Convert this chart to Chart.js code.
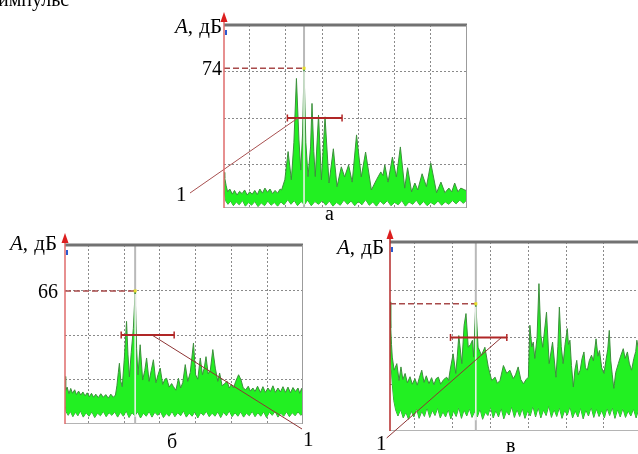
<!DOCTYPE html>
<html>
<head>
<meta charset="utf-8">
<script src="https://cdn.jsdelivr.net/npm/chart.js@4.4.1/dist/chart.umd.min.js"></script>
<style>
  html, body { margin: 0; padding: 0; background: #fff; }
  #wrap { position: relative; width: 638px; height: 454px; overflow: hidden; }
  canvas { position: absolute; left: 0; top: 0; }
  .t { position: absolute; font-family: "Liberation Serif", "Times New Roman", serif; font-size: 20px; line-height: 20px; color: #000; white-space: nowrap; }
  .n { font-size: 21px; line-height: 21px; }
  .u { font-size: 21px; line-height: 21px; word-spacing: 1px; }
</style>
</head>
<body>
<div id="wrap">
  <canvas id="chartA" width="638" height="454"></canvas>
  <canvas id="chartB" width="638" height="454"></canvas>
  <canvas id="chartC" width="638" height="454"></canvas>

  <div class="t" style="left:-2px;top:-11px">импульс</div>

  <div class="t u" style="right:416px;top:16px"><i>A</i>, дБ</div>
  <div class="t" style="right:416px;top:58px">74</div>
  <div class="t n" style="left:176px;top:184px">1</div>
  <div class="t" style="left:325px;top:203px">а</div>

  <div class="t u" style="right:581px;top:233px"><i>A</i>, дБ</div>
  <div class="t" style="right:580px;top:281px">66</div>
  <div class="t" style="left:167px;top:431px">б</div>
  <div class="t n" style="left:303px;top:429px">1</div>

  <div class="t u" style="right:254px;top:237px"><i>A</i>, дБ</div>
  <div class="t n" style="left:376px;top:433px">1</div>
  <div class="t" style="left:506px;top:435px">в</div>
</div>

<script>
// spectrum a: [frequency (grid divisions), amplitude dB]
const aTop = [
  [0.29,51.5],[0.31,50.3],[0.35,48.6],[0.39,47.3],[0.45,47.9],[0.52,46.8],[0.58,47.6],[0.65,46.6],
  [0.72,47.4],[0.79,46.9],[0.86,47.7],[0.93,46.6],[1.00,47.3],[1.07,46.8],[1.14,47.6],[1.21,46.7],
  [1.28,47.9],[1.35,47.0],[1.42,48.1],[1.49,47.2],[1.56,47.9],[1.63,46.9],[1.70,47.6],[1.77,47.0],
  [1.84,47.9],[1.88,47.7],[1.97,49.9],[2.06,56.0],[2.15,49.9],[2.22,58.0],[2.29,71.8],[2.36,58.5],
  [2.41,52.0],[2.46,60.0],[2.50,74.0],[2.55,58.0],[2.61,50.6],[2.68,57.0],[2.72,66.4],[2.77,56.0],
  [2.81,50.6],[2.90,63.9],[2.98,49.9],[3.08,63.5],[3.19,49.2],[3.31,56.6],[3.41,48.4],[3.53,52.7],
  [3.62,50.5],[3.73,53.1],[3.83,49.4],[3.95,59.6],[4.08,50.5],[4.20,55.9],[4.36,47.7],[4.50,49.9],
  [4.62,51.6],[4.68,50.8],[4.73,53.1],[4.82,49.4],[4.94,54.8],[5.05,50.5],[5.16,57.0],[5.28,48.1],
  [5.36,52.5],[5.47,47.3],[5.56,49.2],[5.64,47.7],[5.76,51.2],[5.88,48.4],[6.00,53.5],[6.16,47.1],
  [6.28,49.4],[6.39,47.1],[6.50,48.1],[6.58,47.3],[6.66,49.2],[6.75,47.3],[6.83,48.1],[6.94,47.7],
  [7.00,47.5]
];
const aBot = [
  [0.29,48.0],[0.33,45.4],[0.40,44.6],[0.47,45.3],[0.55,44.3],[0.63,45.1],[0.71,44.5],[0.80,45.4],
  [0.88,44.2],[0.97,45.0],[1.05,44.4],[1.14,45.2],[1.23,44.1],[1.32,44.9],[1.41,44.3],[1.50,45.3],
  [1.59,44.4],[1.68,45.0],[1.77,44.2],[1.86,45.1],[1.95,44.5],[2.05,45.6],[2.14,44.6],[2.23,45.4],
  [2.32,44.3],[2.42,45.2],[2.51,44.5],[2.60,45.5],[2.70,44.3],[2.80,45.2],[2.90,44.6],[3.00,45.4],
  [3.10,44.4],[3.20,45.3],[3.30,44.2],[3.40,45.0],[3.50,44.4],[3.60,45.5],[3.70,44.6],[3.80,45.3],
  [3.90,44.3],[4.00,45.2],[4.10,44.5],[4.20,45.6],[4.30,44.4],[4.40,45.1],[4.50,44.2],[4.60,45.3],
  [4.70,44.6],[4.80,45.4],[4.90,44.3],[5.00,45.0],[5.10,44.5],[5.20,45.4],[5.30,44.2],[5.40,45.1],
  [5.50,44.6],[5.60,45.5],[5.70,44.4],[5.80,45.2],[5.90,44.3],[6.00,45.0],[6.10,44.5],[6.20,45.3],
  [6.30,44.4],[6.40,45.1],[6.50,44.6],[6.60,45.4],[6.70,44.7],[6.80,45.5],[6.90,44.8],[7.00,45.6]
];

// spectrum б
const bTop = [
  [0.35,46.6],[0.37,43.5],[0.41,44.2],[0.46,42.7],[0.51,43.9],[0.56,42.8],[0.62,43.6],[0.67,42.5],
  [0.73,43.3],[0.79,42.4],[0.85,43.1],[0.91,42.2],[0.97,42.9],[1.03,42.0],[1.09,42.8],[1.15,41.9],
  [1.21,42.6],[1.28,41.8],[1.35,42.7],[1.42,41.9],[1.49,42.5],[1.56,41.7],[1.63,42.6],[1.70,41.9],
  [1.76,42.4],[1.80,44.5],[1.84,47.5],[1.87,49.6],[1.91,45.5],[1.95,44.3],[2.01,51.0],[2.07,59.1],
  [2.11,51.5],[2.15,46.5],[2.20,52.0],[2.26,57.5],[2.31,66.0],[2.35,53.0],[2.39,47.0],[2.45,53.8],
  [2.52,45.8],[2.58,48.0],[2.63,50.8],[2.70,45.5],[2.76,48.0],[2.82,50.4],[2.89,45.2],[2.95,47.0],
  [3.01,48.5],[3.08,44.8],[3.14,46.0],[3.19,46.2],[3.26,44.2],[3.33,45.0],[3.38,44.3],[3.45,43.5],
  [3.52,46.2],[3.58,44.0],[3.64,45.2],[3.71,49.3],[3.78,45.5],[3.85,47.5],[3.94,54.2],[4.00,47.0],
  [4.06,46.0],[4.13,50.8],[4.19,47.0],[4.24,48.5],[4.29,51.1],[4.35,47.2],[4.41,48.0],[4.48,52.7],
  [4.55,48.5],[4.62,45.5],[4.67,47.4],[4.74,44.5],[4.81,45.0],[4.88,45.5],[4.94,44.0],[5.00,44.8],
  [5.06,44.0],[5.12,45.5],[5.20,47.0],[5.27,45.8],[5.33,44.0],[5.40,43.6],[5.47,44.4],[5.53,43.3],
  [5.60,44.0],[5.66,43.2],[5.73,44.4],[5.81,43.0],[5.88,44.3],[5.95,43.0],[6.02,44.0],[6.09,43.2],
  [6.16,44.5],[6.23,43.0],[6.30,44.0],[6.37,43.1],[6.44,44.3],[6.51,43.0],[6.58,44.2],[6.65,42.9],
  [6.72,44.1],[6.79,43.2],[6.86,44.0],[6.91,42.8],[6.96,43.9],[7.00,42.7]
];
const bBot = [
  [0.35,40.5],[0.38,38.6],[0.44,37.8],[0.50,38.7],[0.57,37.5],[0.64,38.5],[0.71,37.7],[0.78,38.8],
  [0.86,37.4],[0.94,38.4],[1.02,37.6],[1.10,38.6],[1.18,37.3],[1.26,38.3],[1.34,37.7],[1.42,38.7],
  [1.50,37.5],[1.58,38.4],[1.66,37.8],[1.74,38.6],[1.82,37.4],[1.90,38.5],[1.98,37.6],[2.06,38.8],
  [2.14,37.3],[2.22,38.4],[2.30,37.7],[2.38,38.6],[2.46,37.2],[2.54,38.3],[2.62,37.6],[2.70,38.7],
  [2.78,37.4],[2.86,38.5],[2.94,37.8],[3.02,38.6],[3.10,37.3],[3.18,38.2],[3.26,37.6],[3.34,38.7],
  [3.42,37.5],[3.50,38.4],[3.58,37.7],[3.66,38.8],[3.74,37.4],[3.82,38.3],[3.90,37.6],[3.98,38.6],
  [4.06,37.2],[4.14,38.4],[4.22,37.8],[4.30,38.7],[4.38,37.5],[4.46,38.3],[4.54,37.6],[4.62,38.6],
  [4.70,37.3],[4.78,38.5],[4.86,37.7],[4.94,38.8],[5.02,37.5],[5.10,38.4],[5.18,37.6],[5.26,38.6],
  [5.34,37.4],[5.42,38.3],[5.50,37.7],[5.58,38.7],[5.66,37.5],[5.74,38.4],[5.82,37.6],[5.90,38.6],
  [5.98,37.3],[6.06,38.5],[6.14,37.8],[6.22,38.7],[6.30,37.4],[6.38,38.3],[6.46,37.6],[6.54,38.6],
  [6.62,37.5],[6.70,38.4],[6.78,37.7],[6.86,38.6],[6.94,37.8],[7.00,38.5]
];

// spectrum в
const cTop = [
  [0.34,67.6],[0.36,62.0],[0.38,58.5],[0.40,55.8],[0.45,53.0],[0.52,54.4],[0.58,50.8],[0.63,53.7],
  [0.68,51.0],[0.74,52.3],[0.80,50.3],[0.87,51.6],[0.93,50.0],[1.00,51.2],[1.06,49.8],[1.12,51.5],
  [1.18,53.0],[1.24,50.4],[1.30,51.8],[1.37,50.1],[1.44,51.4],[1.50,49.9],[1.56,51.2],[1.62,51.5],
  [1.68,50.0],[1.76,51.0],[1.84,51.5],[1.89,50.8],[1.93,53.0],[2.01,56.5],[2.08,52.3],[2.12,56.0],
  [2.16,60.4],[2.24,54.4],[2.30,62.6],[2.35,65.1],[2.41,57.9],[2.47,58.5],[2.52,59.4],[2.55,55.8],
  [2.61,67.2],[2.67,57.9],[2.76,56.2],[2.85,57.9],[2.94,53.7],[3.03,50.8],[3.12,51.5],[3.18,50.2],
  [3.25,50.8],[3.34,54.0],[3.43,52.3],[3.51,53.0],[3.60,51.2],[3.66,52.0],[3.73,53.7],[3.80,51.0],
  [3.87,50.1],[3.94,51.0],[4.00,51.5],[4.04,62.6],[4.09,58.0],[4.13,59.0],[4.17,55.5],[4.23,60.0],
  [4.28,71.5],[4.33,60.5],[4.38,57.9],[4.48,65.4],[4.55,54.4],[4.64,59.0],[4.73,51.5],[4.78,58.0],
  [4.82,66.5],[4.87,58.0],[4.92,54.4],[4.97,58.5],[5.03,61.9],[5.06,58.5],[5.10,59.4],[5.14,54.0],
  [5.19,49.4],[5.23,53.0],[5.28,55.1],[5.32,52.0],[5.37,53.0],[5.42,55.5],[5.47,56.9],[5.51,53.5],
  [5.56,53.0],[5.61,55.0],[5.67,56.2],[5.72,55.0],[5.79,59.7],[5.84,56.0],[5.88,57.2],[5.94,53.5],
  [6.00,52.3],[6.05,55.0],[6.10,57.5],[6.14,61.5],[6.18,55.0],[6.22,52.0],[6.26,49.1],[6.31,52.5],
  [6.38,54.4],[6.44,56.0],[6.51,57.6],[6.56,55.5],[6.62,56.9],[6.67,54.5],[6.73,53.0],[6.79,55.5],
  [6.84,57.0],[6.87,59.4],[6.90,58.0]
];
const cBot = [
  [0.34,58.0],[0.37,54.0],[0.40,50.0],[0.44,46.5],[0.49,44.5],[0.55,43.2],[0.62,44.6],[0.69,42.8],
  [0.76,44.0],[0.83,42.5],[0.90,44.3],[0.97,43.0],[1.04,44.8],[1.11,42.7],[1.18,44.2],[1.25,43.1],
  [1.32,45.0],[1.39,42.9],[1.46,44.4],[1.53,43.3],[1.60,44.9],[1.67,42.8],[1.74,44.1],[1.81,43.0],
  [1.88,44.6],[1.95,42.6],[2.02,44.3],[2.09,43.1],[2.16,45.0],[2.23,42.7],[2.30,44.5],[2.37,43.2],
  [2.44,44.8],[2.51,42.9],[2.58,44.2],[2.65,43.0],[2.72,44.7],[2.79,42.5],[2.86,44.0],[2.93,43.3],
  [3.00,45.1],[3.07,42.8],[3.14,44.4],[3.21,43.0],[3.28,44.9],[3.35,42.6],[3.42,44.2],[3.49,43.4],
  [3.56,45.2],[3.63,42.9],[3.70,44.6],[3.77,43.1],[3.84,44.8],[3.91,42.7],[3.98,44.3],[4.05,43.2],
  [4.12,45.3],[4.19,43.0],[4.26,45.0],[4.33,42.8],[4.40,44.5],[4.47,43.3],[4.54,45.4],[4.61,42.9],
  [4.68,44.6],[4.75,43.1],[4.82,45.0],[4.89,42.7],[4.96,44.4],[5.03,43.4],[5.10,45.2],[5.17,42.8],
  [5.24,44.3],[5.31,43.0],[5.38,44.9],[5.45,42.6],[5.52,44.5],[5.59,43.2],[5.66,45.1],[5.73,42.9],
  [5.80,44.7],[5.87,43.1],[5.94,44.4],[6.01,42.8],[6.08,44.9],[6.15,43.3],[6.22,45.0],[6.29,42.7],
  [6.36,44.6],[6.43,43.0],[6.50,44.8],[6.57,42.9],[6.64,44.3],[6.71,43.2],[6.78,44.7],[6.85,42.8],
  [6.90,44.2]
];

// grid positions (divisions / dB)
const aGridX = [1, 2, 3, 4, 5, 6];
const aGridY = [53.25, 63.25, 73.25];
const bGridX = [1, 2, 3, 4, 5, 6];
const bGridY = [46, 56, 66];
const cGridX = [1, 2, 3, 4, 5, 6];
const cGridY = [50, 60, 70];

// cursor peak, -N dB bar [f1, f2, level]
const aPeak = [2.50, 74];
const bPeak = [2.31, 66];
const cPeak = [2.61, 67.2];
const aBar = [2.04, 3.55, 63.25];
const bBar = [1.92, 3.40, 56];
const cBar = [1.94, 3.43, 60];

function line(ctx, x1, y1, x2, y2) {
  ctx.beginPath(); ctx.moveTo(x1, y1); ctx.lineTo(x2, y2); ctx.stroke();
}

function spectrum(id, o) {
  const toXY = arr => arr.map(p => ({ x: p[0], y: p[1] }));

  const deco = {
    id: 'deco',
    beforeDatasetsDraw(chart) {
      const { ctx, chartArea: a, scales: { x } } = chart;
      ctx.save();
      ctx.strokeStyle = '#b4b4b4'; ctx.lineWidth = 1;
      line(ctx, a.left, a.bottom - 0.5, a.right, a.bottom - 0.5);
      const cx = x.getPixelForValue(o.peak[0]);
      ctx.strokeStyle = '#b9b9b9'; ctx.lineWidth = 2;
      line(ctx, cx, a.top, cx, a.bottom);
      ctx.restore();
    },
    afterDatasetsDraw(chart) {
      const { ctx, chartArea: a, scales: { x, y } } = chart;
      ctx.save();
      const px = x.getPixelForValue(o.peak[0]);
      const py = y.getPixelForValue(o.peak[1]);

      // cursor trace through the band
      ctx.strokeStyle = '#f2f2f2'; ctx.lineWidth = 1.5;
      line(ctx, px, py + 3, px, y.getPixelForValue(o.floor));

      // peak level
      ctx.strokeStyle = '#a84a4a'; ctx.lineWidth = 1.5; ctx.setLineDash([6, 3]);
      line(ctx, a.left, py, px, py);
      ctx.setLineDash([]);
      ctx.fillStyle = '#e6dc2a';
      ctx.fillRect(px - 1.5, py - 1.5, 3, 3);

      // bar
      const by = y.getPixelForValue(o.bar[2]);
      const b1 = x.getPixelForValue(o.bar[0]), b2 = x.getPixelForValue(o.bar[1]);
      ctx.strokeStyle = '#b02626'; ctx.lineWidth = 2;
      line(ctx, b1, by, b2, by);
      ctx.lineWidth = 1.5;
      line(ctx, b1, by - 3.5, b1, by + 3.5);
      line(ctx, b2, by - 3.5, b2, by + 3.5);

      // leader to "1"
      ctx.strokeStyle = o.leadColor; ctx.lineWidth = 1;
      line(ctx, x.getPixelForValue(o.lead[0]), by, o.lead[1], o.lead[2]);

      // top frame
      ctx.fillStyle = '#727272';
      ctx.fillRect(a.left, a.top - 1.5, a.right - a.left, 3);
      if (o.rightBorder) {
        ctx.strokeStyle = '#9c9c9c'; ctx.lineWidth = 1;
        line(ctx, a.right - 0.5, a.top, a.right - 0.5, a.bottom);
      }
      ctx.fillStyle = '#2a5ad0';
      ctx.fillRect(a.left + 1, a.top + 5, 2, 5);

      // red axis with arrow
      ctx.strokeStyle = o.axisColor; ctx.lineWidth = 1.5;
      line(ctx, a.left, o.arrowTip + 6, a.left, a.bottom);
      ctx.fillStyle = '#dc1e1e';
      ctx.beginPath();
      ctx.moveTo(a.left, o.arrowTip);
      ctx.lineTo(a.left - 3.5, o.arrowTip + 10);
      ctx.lineTo(a.left + 3.5, o.arrowTip + 10);
      ctx.closePath(); ctx.fill();
      ctx.restore();
    }
  };

  const axisOpts = (range, grid) => ({
    type: 'linear', min: range[0], max: range[1],
    afterBuildTicks: s => { s.ticks = grid.map(v => ({ value: v })); },
    ticks: { display: false },
    grid: { color: '#8a8a8a', lineWidth: 1, drawTicks: false },
    border: { display: false, dash: [2, 2] }
  });

  return new Chart(document.getElementById(id), {
    type: 'line',
    data: {
      datasets: [
        { data: toXY(o.top), fill: '+1', backgroundColor: '#22f022', borderColor: '#3c8f3c', borderWidth: 1, pointRadius: 0, tension: 0 },
        { data: toXY(o.bot), fill: false, borderColor: '#3c8f3c', borderWidth: 1, pointRadius: 0, tension: 0 }
      ]
    },
    options: {
      responsive: false,
      animation: false,
      events: [],
      layout: { padding: o.pad },
      plugins: { legend: { display: false }, tooltip: { enabled: false } },
      scales: { x: axisOpts(o.xr, o.gx), y: axisOpts(o.yr, o.gy) }
    },
    plugins: [deco]
  });
}

spectrum('chartA', {
  top: aTop, bot: aBot, gx: aGridX, gy: aGridY, peak: aPeak, bar: aBar,
  xr: [0.29, 7.0], yr: [43.8, 83.35], floor: 44.5,
  pad: { left: 224, top: 25, right: 171, bottom: 246 },
  lead: [2.33, 190, 193], leadColor: '#a85050',
  axisColor: '#df6b6b', arrowTip: 12, rightBorder: true
});

spectrum('chartB', {
  top: bTop, bot: bBot, gx: bGridX, gy: bGridY, peak: bPeak, bar: bBar,
  xr: [0.35, 7.0], yr: [35.84, 76.4], floor: 37.5,
  pad: { left: 65, top: 245, right: 335, bottom: 30 },
  lead: [2.78, 302, 429], leadColor: '#8e3434',
  axisColor: '#df6b6b', arrowTip: 233, rightBorder: true
});

spectrum('chartC', {
  top: cTop, bot: cBot, gx: cGridX, gy: cGridY, peak: cPeak, bar: cBar,
  xr: [0.34, 6.90], yr: [40, 80.4], floor: 42.3,
  pad: { left: 390, top: 242, right: 0, bottom: 23 },
  lead: [3.29, 386.7, 438], leadColor: '#8e3434',
  axisColor: '#b52a2a', arrowTip: 229, rightBorder: false
});
</script>
</body>
</html>
